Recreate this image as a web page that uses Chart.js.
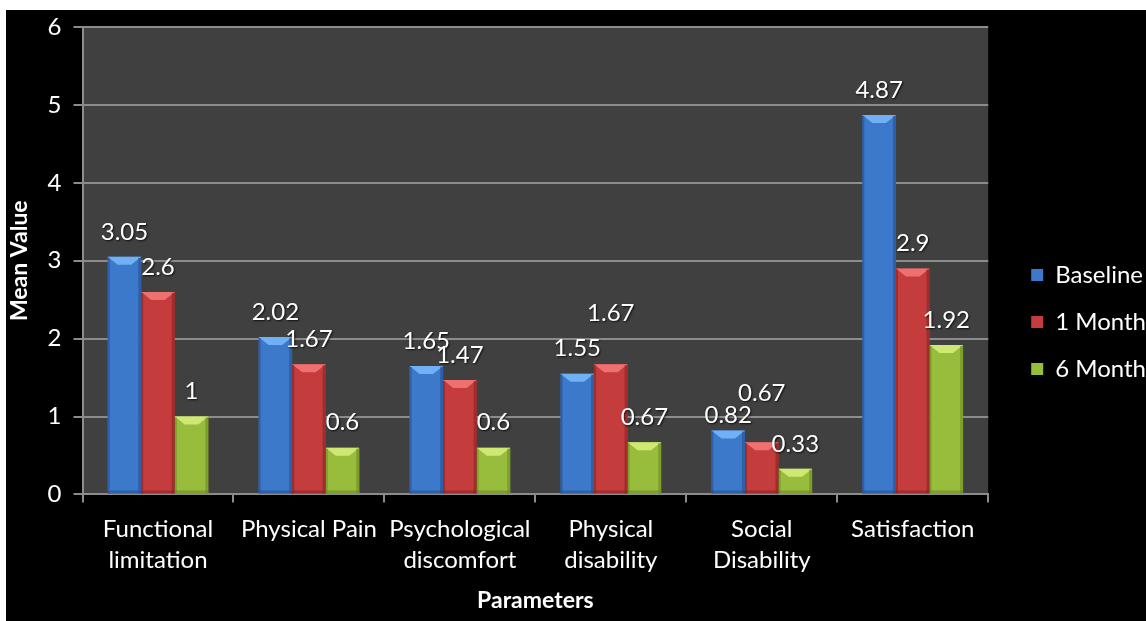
<!DOCTYPE html>
<html>
<head>
  <meta charset="UTF-8" />
  <title>Mean Value by Parameters</title>
  <style>
    html, body { margin: 0; padding: 0; background: #fff; }
    #wrap { position: absolute; left: 6px; top: 10px; width: 1140px; height: 611px; background: #000; }
  </style>
</head>
<body>
  <div id="wrap"><canvas id="meanChart"></canvas></div>
  <script src="https://cdn.jsdelivr.net/npm/chart.js"></script>
  <script>
    const categories = [['Functional', 'limitation'], 'Physical Pain', ['Psychological', 'discomfort'], ['Physical', 'disability'], ['Social', 'Disability'], 'Satisfaction'];
    const seriesNames = ['Baseline', '1 Month', '6 Month'];
    const baseline = [3.05, 2.02, 1.65, 1.55, 0.82, 4.87];
    const oneMonth = [2.6, 1.67, 1.47, 1.67, 0.67, 2.9];
    const sixMonth = [1, 0.6, 0.6, 0.67, 0.33, 1.92];
    const yTicks = [0, 1, 2, 3, 4, 5, 6];

    const FONT = 'Lato, "Noto Sans", sans-serif';
    const colors = ['#3d79cb', '#c43c3c', '#98bd3c'];
    const lights = ['#70b0f4', '#ee7070', '#cfe873'];
    const darks = ['#24508f', '#8c2222', '#6a8a22'];
    // a few labels sit higher in the original to avoid overlap (dataset,index -> extra px)
    const labelLift = { '1,3': 26, '1,4': 24, '0,4': -10 };

    // grey plot area behind the bars
    const plotBg = {
      id: 'plotBg',
      beforeDraw(chart) {
        const { ctx, chartArea: a } = chart;
        ctx.save();
        ctx.fillStyle = '#404040';
        ctx.fillRect(a.left, a.top, a.right - a.left, a.bottom - a.top);
        ctx.restore();
      }
    };

    // push legend right and down a bit, like the original
    const legendShift = {
      id: 'legendShift',
      afterLayout(chart) {
        const lg = chart.legend;
        lg.left += 20; lg.right += 20;
        lg.top += 10; lg.bottom += 10;
      }
    };

    // bevel look on bars + value labels
    const barDeco = {
      id: 'barDeco',
      afterDatasetsDraw(chart) {
        const ctx = chart.ctx;
        chart.data.datasets.forEach((ds, i) => {
          const meta = chart.getDatasetMeta(i);
          meta.data.forEach((bar, j) => {
            const l = bar.x - bar.width / 2, r = bar.x + bar.width / 2;
            const t = bar.y, b = bar.base;
            const d = Math.min(8, (b - t) / 2);
            ctx.save();
            // top bevel
            ctx.fillStyle = lights[i];
            ctx.beginPath();
            ctx.moveTo(l, t); ctx.lineTo(r, t);
            ctx.lineTo(r - 10, t + d); ctx.lineTo(l + 10, t + d);
            ctx.closePath(); ctx.fill();
            // sides
            ctx.fillStyle = darks[i];
            ctx.globalAlpha = 0.6;
            ctx.fillRect(l, t + 1, 2, b - t - 1);
            ctx.fillRect(r - 3, t + 1, 3, b - t - 1);
            ctx.fillRect(l, b - 3, r - l, 3);
            ctx.globalAlpha = 1;
            // label
            ctx.font = '24px ' + FONT;
            ctx.fillStyle = '#ffffff';
            ctx.textAlign = 'center';
            ctx.textBaseline = 'middle';
            ctx.shadowColor = 'rgba(0,0,0,0.8)';
            ctx.shadowBlur = 2;
            ctx.shadowOffsetX = 1;
            ctx.shadowOffsetY = 1;
            const lift = labelLift[i + ',' + j] || 0;
            ctx.fillText(String(ds.data[j]), bar.x, t - 25 - lift);
            ctx.restore();
          });
        });
      }
    };

    new Chart(document.getElementById('meanChart'), {
      type: 'bar',
      data: {
        labels: categories,
        datasets: [
          { label: seriesNames[0], data: baseline, backgroundColor: colors[0] },
          { label: seriesNames[1], data: oneMonth, backgroundColor: colors[1] },
          { label: seriesNames[2], data: sixMonth, backgroundColor: colors[2] }
        ]
      },
      options: {
        responsive: true,
        maintainAspectRatio: false,
        animation: false,
        categoryPercentage: 0.667,
        barPercentage: 1.0,
        layout: { padding: { top: 0, left: 0, bottom: 7, right: 10 } },
        plugins: {
          tooltip: { enabled: false },
          legend: {
            position: 'right',
            labels: {
              color: '#ffffff',
              font: { family: FONT, size: 24 },
              boxWidth: 12,
              boxHeight: 12,
              padding: 23,
              generateLabels: (chart) => seriesNames.map((n, i) => ({
                text: n, fillStyle: colors[i], strokeStyle: colors[i], lineWidth: 0,
                fontColor: '#ffffff', datasetIndex: i, hidden: false
              }))
            }
          }
        },
        scales: {
          x: {
            grid: { display: true, drawOnChartArea: false, drawTicks: true, tickLength: 8, color: '#8c8c8c', lineWidth: 2, offset: true },
            border: { color: '#8c8c8c', width: 2 },
            ticks: { color: '#ffffff', font: { family: FONT, size: 24, lineHeight: 1.29 }, padding: 11, maxRotation: 0, autoSkip: false },
            title: { display: true, text: 'Parameters', color: '#ffffff', font: { family: FONT, size: 23, weight: 'bold' }, padding: { top: 0, bottom: 0 } }
          },
          y: {
            min: yTicks[0],
            max: yTicks[yTicks.length - 1],
            afterBuildTicks: (axis) => { axis.ticks = yTicks.map(v => ({ value: v })); },
            afterFit: (axis) => { axis.paddingTop = 17; },
            grid: { color: '#8c8c8c', lineWidth: 2, tickLength: 9 },
            border: { color: '#8c8c8c', width: 2 },
            ticks: { color: '#ffffff', font: { family: FONT, size: 24 }, padding: 12 },
            title: { display: true, text: 'Mean Value', color: '#ffffff', font: { family: FONT, size: 23, weight: 'bold' }, padding: { top: 0, bottom: 2 } }
          }
        }
      },
      plugins: [plotBg, legendShift, barDeco]
    });
  </script>
</body>
</html>
